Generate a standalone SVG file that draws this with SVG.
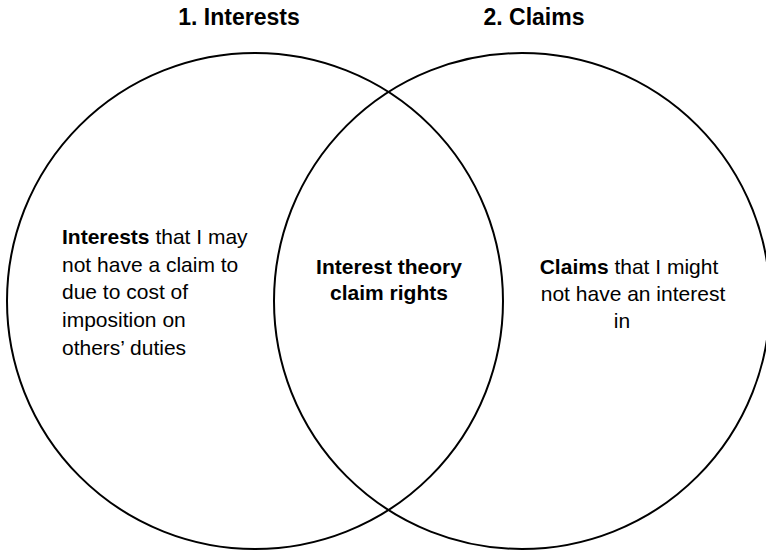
<svg xmlns="http://www.w3.org/2000/svg" width="766" height="553" viewBox="0 0 766 553">
  <style>
    .set { fill: none; stroke: #000; stroke-width: 2; }
    .title { font-family: "Liberation Sans", Arial, sans-serif; font-size: 23px; font-weight: bold; fill: #000; text-anchor: middle; }
    .body { font-family: "Liberation Sans", Arial, sans-serif; font-size: 21px; fill: #000; }
    .b { font-weight: bold; }
    .mid { text-anchor: middle; }
  </style>
  <rect width="766" height="553" fill="#fff"/>

  <!-- Set 1: interests -->
  <g id="interests">
    <circle class="set" cx="255" cy="301" r="248"/>
    <text class="title" x="239" y="25">1. Interests</text>
    <text class="body" x="62" y="244"><tspan class="b">Interests</tspan> that I may</text>
    <text class="body" x="62" y="272">not have a claim to</text>
    <text class="body" x="62" y="299">due to cost of</text>
    <text class="body" x="62" y="327">imposition on</text>
    <text class="body" x="62" y="355">others’ duties</text>
  </g>

  <!-- Set 2: claims -->
  <g id="claims">
    <circle class="set" cx="522" cy="301" r="248"/>
    <text class="title" x="534" y="25">2. Claims</text>
    <text class="body mid" x="629" y="274"><tspan class="b">Claims</tspan> that I might</text>
    <text class="body mid" x="633" y="301">not have an interest</text>
    <text class="body mid" x="622" y="328">in</text>
  </g>

  <!-- Overlap of both sets -->
  <g id="overlap">
    <text class="body b mid" x="389" y="274">Interest theory</text>
    <text class="body b mid" x="389" y="300">claim rights</text>
  </g>

  <g id="connectors"/>
</svg>
